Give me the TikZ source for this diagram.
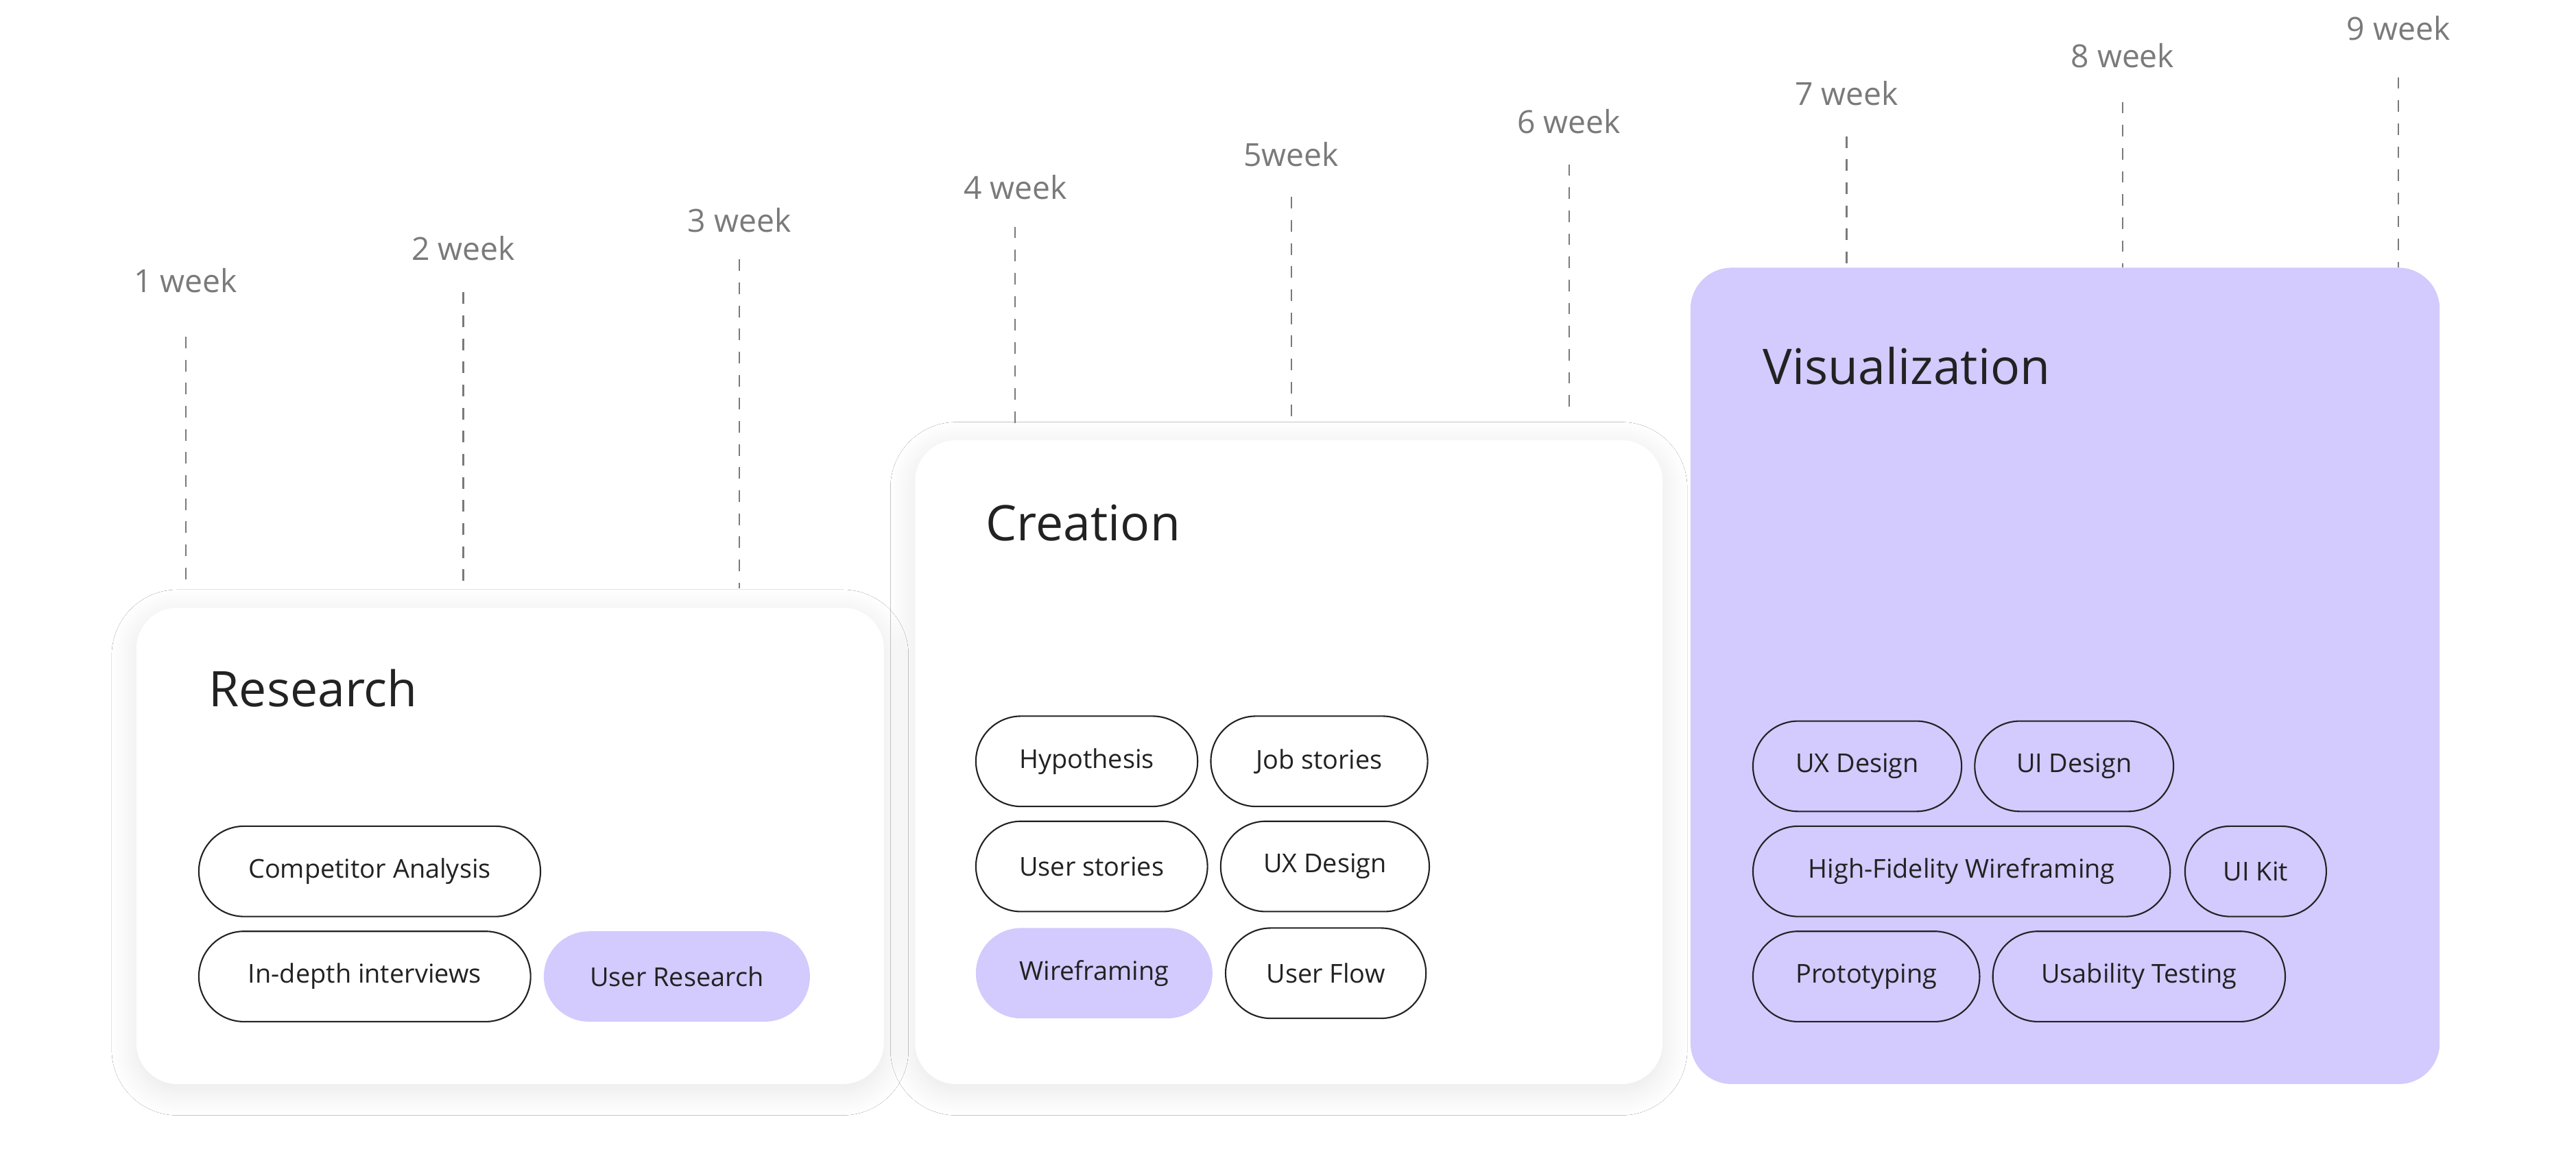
\documentclass[tikz,border=0pt]{standalone}
\usepackage{fontspec}
\setmainfont{Open Sans}
\usetikzlibrary{shadows.blur}
\definecolor{lavender}{HTML}{D3CAFD}
\definecolor{ink}{HTML}{222222}
\definecolor{weekgray}{HTML}{7A7A7A}
\tikzset{
  panel/.style={fill=white,rounded corners=0.5cm,
    blur shadow={shadow blur steps=12,shadow xshift=0pt,shadow yshift=-0.08cm,shadow opacity=10,shadow blur radius=0.3cm}},
  vispanel/.style={fill=lavender,rounded corners=0.5cm},
  title/.style={anchor=base west,text=ink,font=\fontsize{17}{20}\selectfont},
  pill/.style={draw=ink,line width=0.5pt,rounded corners=0.55cm,minimum height=1.1cm,
    inner sep=0pt,text=ink,font=\fontsize{9}{11}\selectfont},
  hot/.style={pill,draw=none,fill=lavender},
  week/.style={text=weekgray,font=\fontsize{11}{13}\selectfont},
  tick/.style={draw=weekgray,line width=0.5pt,dash pattern=on 4pt off 4pt}
}
\begin{document}
\begin{tikzpicture}[x=0.02cm,y=-0.02cm]
  \useasboundingbox[fill=white] (0,0) rectangle (1568,709);

  % panels
  \path[panel] (83,370) rectangle (538,660);
  \path[panel] (557,268) rectangle (1012,660);
  \path[vispanel] (1029,163) rectangle (1485,660);

  % weeks
  \foreach \n/\x/\ty/\la/\lb/\txt in {
      1/113/171/205/358/1 week, 2/282/151/178/358/2 week, 3/450/134/158/358/3 week,
      4/618/114/138/258/4 week, 5/786/94/120/258/5week, 6/955/74/100/252/6 week,
      7/1124/57/83/163/7 week, 8/1292/34/62/163/8 week, 9/1460/17/47/163/9 week} {
    \node[week] (w\n) at (\x,\ty) {\txt};
    \coordinate (wa\n) at (\x,\la);
    \coordinate (wb\n) at (\x,\lb);
    \draw[tick] (wa\n) -- (wb\n);
  }

  % titles
  \node[title] (research) at (121,430) {Research};
  \node[title] (creation) at (594,329) {Creation};
  \node[title] (visual) at (1067,234) {Visualization};

  % research
  \node[pill,minimum width=4.16cm] (compet) at (225,530.5) {Competitor Analysis};
  \node[pill,minimum width=4.04cm] (indepth) at (222,594.5) {In-depth interviews};
  \node[hot,minimum width=3.24cm] (userres) at (412,594.5) {User Research};

  % creation
  \node[pill,minimum width=2.70cm] (hypo) at (661.5,463.5) {Hypothesis};
  \node[pill,minimum width=2.64cm] (jobst) at (803,463.5) {Job stories};
  \node[pill,minimum width=2.82cm] (userst) at (664.5,527.5) {User stories};
  \node[pill,minimum width=2.54cm] (uxa) at (806.5,527.5) {UX Design};
  \node[hot,minimum width=2.88cm] (wire) at (666,592.5) {Wireframing};
  \node[pill,minimum width=2.44cm] (flow) at (807,592.5) {User Flow};

  % visualization
  \node[pill,minimum width=2.54cm] (uxb) at (1130.5,466.5) {UX Design};
  \node[pill,minimum width=2.42cm] (uid) at (1262.5,466.5) {UI Design};
  \node[pill,minimum width=5.08cm] (hifi) at (1194,530.5) {High-Fidelity Wireframing};
  \node[pill,minimum width=1.72cm] (uikit) at (1373,530.5) {UI Kit};
  \node[pill,minimum width=2.76cm] (proto) at (1136,594.5) {Prototyping};
  \node[pill,minimum width=3.56cm] (usab) at (1302,594.5) {Usability Testing};

\end{tikzpicture}
\end{document}
